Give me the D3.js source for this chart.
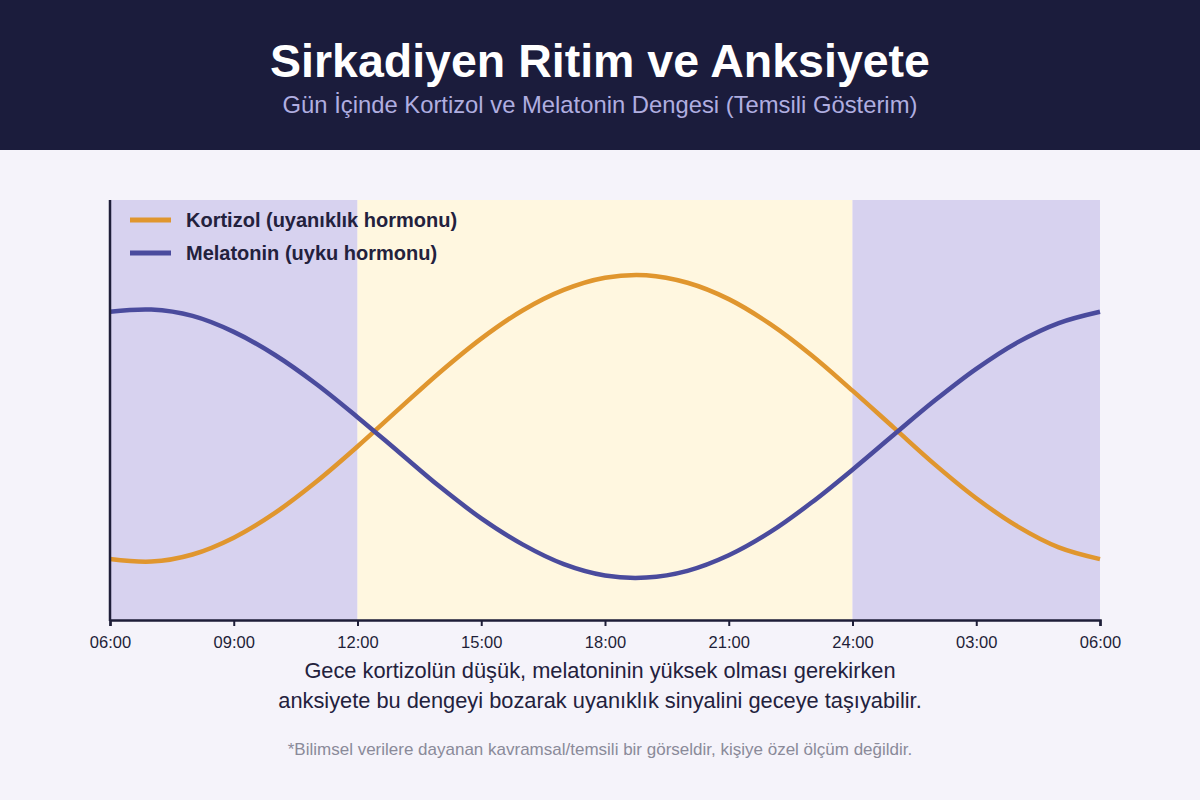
<!DOCTYPE html>
<html><head><meta charset="utf-8">
<script src="https://cdn.jsdelivr.net/npm/d3@7"></script>
<style>
body{margin:0;background:#f5f3fa;font-family:"Liberation Sans",Arial,sans-serif;}
svg{display:block}
</style></head><body>
<svg id="c" width="1200" height="800"></svg>
<script>
// Hours since 06:00 (0..24)
const hours = d3.range(0, 25);
const tickLabels = ["06:00","09:00","12:00","15:00","18:00","21:00","24:00","03:00","06:00"];
const tickHours = [0,3,6,9,12,15,18,21,24];
const cortisol = [14.5,13.9,15.6,19.6,25.5,32.9,41.3,50.2,59.0,67.0,73.7,78.6,81.5,82.1,80.3,76.4,70.5,63.1,54.6,45.8,37.0,29.0,22.3,17.3,14.5];
const melatonin = [73.4,73.9,72.4,68.6,63.1,56.2,48.3,40.0,31.7,24.2,18.0,13.3,10.6,10.1,11.7,15.4,20.9,27.9,35.8,44.1,52.3,59.8,66.1,70.7,73.4];
const bands = [
  {from:0, to:6, kind:"night"},
  {from:6, to:18, kind:"day"},
  {from:18, to:24, kind:"night"}
];
const seriesNames = ["Kortizol (uyanıklık hormonu)", "Melatonin (uyku hormonu)"];

const svg = d3.select("#c");
const W = 1200, H = 800;
svg.append("rect").attr("width",W).attr("height",H).attr("fill","#f5f3fa");
svg.append("rect").attr("width",W).attr("height",150).attr("fill","#1b1c3c");
svg.append("text").attr("x",600).attr("y",77).attr("text-anchor","middle")
  .attr("fill","#ffffff").attr("font-size",46.5).attr("font-weight","bold")
  .text("Sirkadiyen Ritim ve Anksiyete");
svg.append("text").attr("x",600).attr("y",113).attr("text-anchor","middle")
  .attr("fill","#b0aee0").attr("font-size",23.8)
  .text("Gün İçinde Kortizol ve Melatonin Dengesi (Temsili Gösterim)");

const x = d3.scaleLinear().domain([0,24]).range([110,1100]);
const y = d3.scaleLinear().domain([0,100]).range([620,200]);

const g = svg.append("g");
g.selectAll("rect.band").data(bands).join("rect").attr("class","band")
  .attr("x",d=>x(d.from)).attr("width",d=>x(d.to)-x(d.from))
  .attr("y",y(100)).attr("height",y(0)-y(100))
  .attr("fill",d=>d.kind==="night"?"#d7d2ef":"#fff7e0");

const line = d3.line().x((d,i)=>x(hours[i])).y(d=>y(d)).curve(d3.curveCatmullRom);
g.append("path").datum(cortisol).attr("d",line).attr("fill","none")
  .attr("stroke","#e0962e").attr("stroke-width",4.5);
g.append("path").datum(melatonin).attr("d",line).attr("fill","none")
  .attr("stroke","#4a4b9d").attr("stroke-width",4.5);

const ax = d3.axisBottom(x).tickValues(tickHours).tickFormat((d,i)=>tickLabels[i]).tickSizeOuter(6).tickSize(6);
const axg = svg.append("g").attr("transform","translate(0,620)").call(ax);
axg.select(".domain").attr("stroke","#1e1e38").attr("stroke-width",2.5);
axg.selectAll(".tick line").attr("stroke","#1e1e38").attr("stroke-width",2);
axg.selectAll(".tick text").attr("fill","#1e1e38").attr("font-size",16.5)
  .attr("font-family","Liberation Sans, Arial, sans-serif").attr("dy","1.15em");
svg.append("line").attr("x1",110).attr("x2",110).attr("y1",200).attr("y2",621)
  .attr("stroke","#1e1e38").attr("stroke-width",2.5);

const colors = ["#e0962e","#4a4b9d"];
const leg = svg.append("g");
seriesNames.forEach((n,i)=>{
  const yy = 220 + i*33;
  leg.append("line").attr("x1",130).attr("x2",171).attr("y1",yy).attr("y2",yy)
    .attr("stroke",colors[i]).attr("stroke-width",5);
  leg.append("text").attr("x",186).attr("y",yy+7).attr("font-size",20)
    .attr("font-weight","bold").attr("fill","#23213d").text(n);
});

svg.append("text").attr("x",600).attr("y",678).attr("text-anchor","middle")
  .attr("font-size",21.8).attr("fill","#23213d")
  .text("Gece kortizolün düşük, melatoninin yüksek olması gerekirken");
svg.append("text").attr("x",600).attr("y",708).attr("text-anchor","middle")
  .attr("font-size",21.8).attr("fill","#23213d")
  .text("anksiyete bu dengeyi bozarak uyanıklık sinyalini geceye taşıyabilir.");
svg.append("text").attr("x",600).attr("y",755).attr("text-anchor","middle")
  .attr("font-size",17).attr("fill","#8a8a99")
  .text("*Bilimsel verilere dayanan kavramsal/temsili bir görseldir, kişiye özel ölçüm değildir.");
</script>
</body></html>
